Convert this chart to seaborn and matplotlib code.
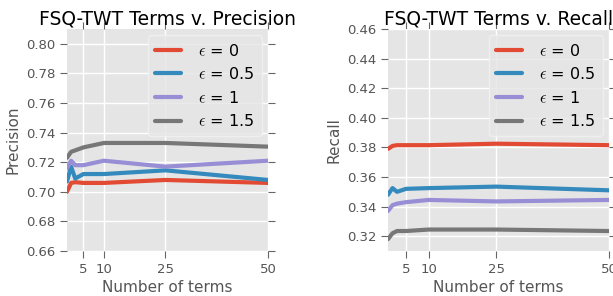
import matplotlib
matplotlib.use("Agg")
import matplotlib.pyplot as plt
import seaborn as sns
import pandas as pd

terms = [1, 2, 3, 5, 10, 25, 50]
labels = [r"$\epsilon$ = 0", r"$\epsilon$ = 0.5", r"$\epsilon$ = 1", r"$\epsilon$ = 1.5"]

prec_e0 = [0.700, 0.706, 0.7065, 0.706, 0.706, 0.708, 0.706]
prec_e05 = [0.707, 0.717, 0.709, 0.712, 0.712, 0.7145, 0.708]
prec_e1 = [0.716, 0.721, 0.718, 0.718, 0.721, 0.717, 0.721]
prec_e15 = [0.723, 0.727, 0.728, 0.730, 0.733, 0.733, 0.7305]

rec_e0 = [0.379, 0.381, 0.3815, 0.3815, 0.3815, 0.3825, 0.3815]
rec_e05 = [0.348, 0.3525, 0.350, 0.352, 0.3525, 0.3535, 0.351]
rec_e1 = [0.337, 0.341, 0.342, 0.343, 0.3445, 0.3435, 0.3445]
rec_e15 = [0.318, 0.322, 0.3235, 0.3235, 0.3245, 0.3245, 0.3235]

xticks = [5, 10, 25, 50]
colors = ["#E24A33", "#348ABD", "#988ED5", "#777777"]

def long_df(series):
    rows = []
    for lab, vals in zip(labels, series):
        for x, v in zip(terms, vals):
            rows.append({"terms": x, "value": v, "eps": lab})
    return pd.DataFrame(rows)

sns.set_theme(style="darkgrid")
plt.rcParams.update({
    "axes.facecolor": "#E5E5E5",
    "grid.color": "white",
    "grid.linewidth": 1.0,
    "font.family": ["DejaVu Sans"],
    "mathtext.fontset": "cm",
})

fig = plt.figure(figsize=(6.13, 2.96), dpi=100)
W, H = 613.0, 296.0
ax1 = fig.add_axes([67 / W, 1 - 251 / H, 201 / W, 222 / H])
ax2 = fig.add_axes([388 / W, 1 - 251 / H, 221 / W, 222 / H])

specs = [
    (ax1, [prec_e0, prec_e05, prec_e1, prec_e15], "Precision", "FSQ-TWT Terms v. Precision",
     (0.66, 0.81), [0.66, 0.68, 0.70, 0.72, 0.74, 0.76, 0.78, 0.80]),
    (ax2, [rec_e0, rec_e05, rec_e1, rec_e15], "Recall", "FSQ-TWT Terms v. Recall",
     (0.31, 0.46), [0.32, 0.34, 0.36, 0.38, 0.40, 0.42, 0.44, 0.46]),
]

for ax, series, ylab, title, ylim, yticks in specs:
    df = long_df(series)
    sns.lineplot(data=df, x="terms", y="value", hue="eps", palette=colors,
                 linewidth=3, ax=ax, legend=True)
    ax.set_xlim(1, 50)
    ax.set_ylim(*ylim)
    ax.set_xticks(xticks)
    ax.set_yticks(yticks)
    ax.set_yticklabels([f"{t:.2f}" for t in yticks])
    ax.set_xlabel("Number of terms", fontsize=11, color="#555555", labelpad=3)
    ax.set_ylabel(ylab, fontsize=11, color="#555555", labelpad=4)
    ax.set_title(title, fontsize=13.5, color="black", pad=3)
    ax.tick_params(axis="both", which="both", direction="out", length=5, width=0.8,
                   color="#666666", labelcolor="#555555", labelsize=9.5,
                   top=True, right=True, bottom=True, left=True, pad=3.5)
    for s in ax.spines.values():
        s.set_visible(False)
    ax.grid(True, color="white", linewidth=1.0)
    leg = ax.legend(loc="upper right", fontsize=11.5, frameon=True, handlelength=1.6,
                    borderpad=0.45, labelspacing=0.47, handletextpad=1.1,
                    borderaxespad=0.4)
    leg.get_frame().set_facecolor("#E5E5E5")
    leg.get_frame().set_edgecolor("#F2F2F2")
    for line in leg.get_lines():
        line.set_linewidth(3)
    for t in leg.get_texts():
        t.set_color("black")

fig.savefig("out.png", dpi=100)
